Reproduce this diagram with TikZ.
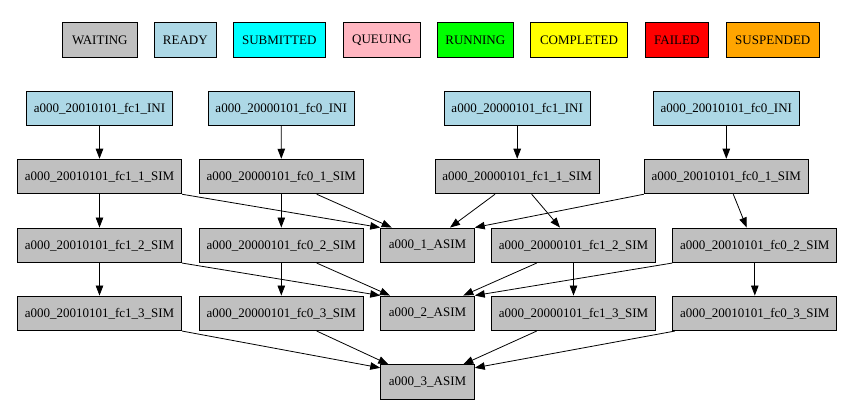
\documentclass[tikz,border=0pt]{standalone}
\usepackage{fontspec}
\setmainfont{Liberation Serif}
\usetikzlibrary{arrows.meta}
\definecolor{cwait}{HTML}{C0C0C0}
\definecolor{cready}{HTML}{ADD8E6}
\definecolor{csub}{HTML}{00FFFF}
\definecolor{cqueue}{HTML}{FFB6C1}
\definecolor{crun}{HTML}{00FF00}
\definecolor{ccomp}{HTML}{FFFF00}
\definecolor{cfail}{HTML}{FF0000}
\definecolor{csusp}{HTML}{FFA500}
\tikzset{
  box/.style={draw=black, line width=0.9pt, rectangle, inner sep=0pt, minimum height=34.6pt,
    font=\fontsize{13}{15}\selectfont, text=black},
  leg/.style={box, minimum height=35pt},
  ini/.style={box, fill=cready, minimum width=146pt},
  sim/.style={box, fill=cwait, minimum width=164.2pt},
  asim/.style={box, fill=cwait, minimum width=93.6pt},
  edge/.style={draw=black, line width=0.8pt, -{Triangle[length=10pt,width=7.5pt]}}
}
\begin{document}
\begin{tikzpicture}[x=1pt,y=-1pt]
\useasboundingbox (0,0) rectangle (862,414);
% legend
\node[leg, fill=cwait, minimum width=75pt] (lwait) at (99.8,39.8) {WAITING};
\node[leg, fill=cready, minimum width=62pt] (lready) at (185.3,39.8) {READY};
\node[leg, fill=csub, minimum width=92pt] (lsub) at (279.3,39.8) {SUBMITTED};
\node[leg, fill=cqueue, minimum width=77pt] (lqueue) at (381.8,39.8) {QUEUING};
\node[leg, fill=crun, minimum width=76pt] (lrun) at (475.3,39.8) {RUNNING};
\node[leg, fill=ccomp, minimum width=97.4pt] (lcomp) at (579,39.8) {COMPLETED};
\node[leg, fill=cfail, minimum width=63pt] (lfail) at (676.8,39.8) {FAILED};
\node[leg, fill=csusp, minimum width=93pt] (lsusp) at (772.8,39.8) {SUSPENDED};
% row 1
\node[ini] (i1) at (99.5,108.4) {a000\_20010101\_fc1\_INI};
\node[ini] (i2) at (281.2,108.4) {a000\_20000101\_fc0\_INI};
\node[ini] (i3) at (517.2,108.4) {a000\_20000101\_fc1\_INI};
\node[ini] (i4) at (726.3,108.4) {a000\_20010101\_fc0\_INI};
% row 2
\node[sim] (a1) at (99.5,176.5) {a000\_20010101\_fc1\_1\_SIM};
\node[sim] (b1) at (281.3,176.5) {a000\_20000101\_fc0\_1\_SIM};
\node[sim] (c1) at (517.2,176.5) {a000\_20000101\_fc1\_1\_SIM};
\node[sim] (d1) at (726.3,176.5) {a000\_20010101\_fc0\_1\_SIM};
% row 3
\node[sim] (a2) at (99.5,245.3) {a000\_20010101\_fc1\_2\_SIM};
\node[sim] (b2) at (281.3,245.3) {a000\_20000101\_fc0\_2\_SIM};
\node[asim] (s1) at (427.5,245.3) {a000\_1\_ASIM};
\node[sim] (c2) at (573.5,245.3) {a000\_20000101\_fc1\_2\_SIM};
\node[sim] (d2) at (754.8,245.3) {a000\_20010101\_fc0\_2\_SIM};
% row 4
\node[sim] (a3) at (99.5,313.3) {a000\_20010101\_fc1\_3\_SIM};
\node[sim] (b3) at (281.3,313.3) {a000\_20000101\_fc0\_3\_SIM};
\node[asim] (s2) at (427.5,313.3) {a000\_2\_ASIM};
\node[sim] (c3) at (573.5,313.3) {a000\_20000101\_fc1\_3\_SIM};
\node[sim] (d3) at (754.8,313.3) {a000\_20010101\_fc0\_3\_SIM};
% row 5
\node[asim] (s3) at (427.5,382) {a000\_3\_ASIM};
% edges INI -> 1
\draw[edge] (i1.south) -- (a1.north);
\draw[edge] (i2.south) -- (b1.north);
\draw[edge] (i3.south) -- (c1.north);
\draw[edge] (i4.south) -- (d1.north);
% 1 -> 2
\draw[edge] (a1.south) -- (a2.north);
\draw[edge] (b1.south) -- (b2.north);
\draw[edge] ([xshift=14.5pt]c1.south) -- ([xshift=-13.5pt]c2.north);
\draw[edge] ([xshift=7pt]d1.south) -- ([xshift=-8.1pt]d2.north);
% 1 -> ASIM1
\draw[edge] (a1.south east) -- (s1.north west);
\draw[edge] ([xshift=35.4pt]b1.south) -- ([xshift=-35.8pt]s1.north);
\draw[edge] ([xshift=-22.2pt]c1.south) -- ([xshift=22.5pt]s1.north);
\draw[edge] (d1.south west) -- (s1.north east);
% 2 -> 3
\draw[edge] (a2.south) -- (a3.north);
\draw[edge] (b2.south) -- (b3.north);
\draw[edge] (c2.south) -- (c3.north);
\draw[edge] (d2.south) -- (d3.north);
% 2 -> ASIM2
\draw[edge] (a2.south east) -- (s2.north west);
\draw[edge] ([xshift=35.4pt]b2.south) -- ([xshift=-37.5pt]s2.north);
\draw[edge] ([xshift=-36.8pt]c2.south) -- ([xshift=35.8pt]s2.north);
\draw[edge] (d2.south west) -- (s2.north east);
% 3 -> ASIM3
\draw[edge] (a3.south east) -- ([yshift=-3.6pt]s3.north west);
\draw[edge] ([xshift=35.4pt]b3.south) -- ([xshift=-39.2pt]s3.north);
\draw[edge] ([xshift=-36.8pt]c3.south) -- ([xshift=35.8pt]s3.north);
\draw[edge] ([xshift=2.7pt]d3.south west) -- ([yshift=-3.6pt]s3.north east);
\end{tikzpicture}
\end{document}
